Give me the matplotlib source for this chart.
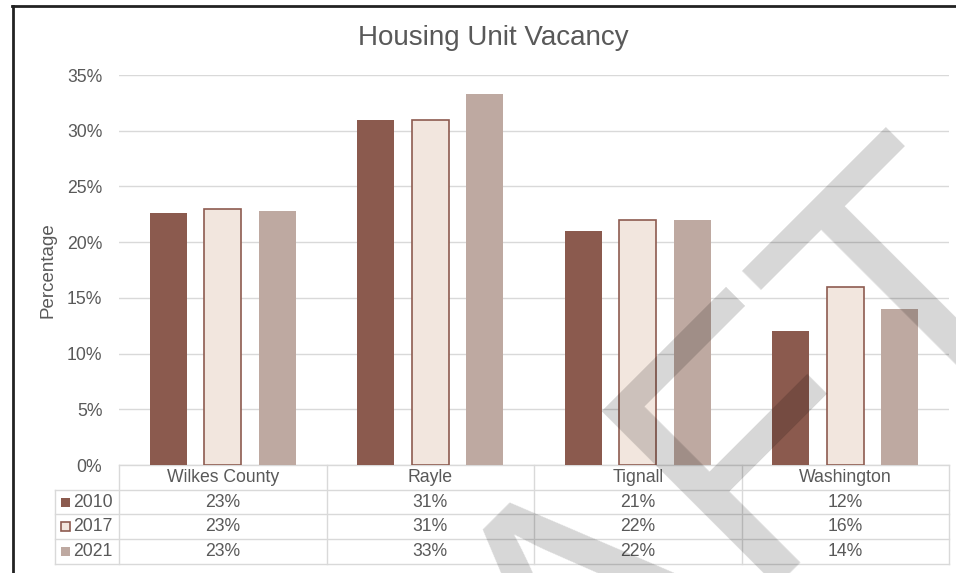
import numpy as np
import matplotlib.pyplot as plt
from matplotlib.patches import Rectangle
from matplotlib.lines import Line2D
from matplotlib.ticker import PercentFormatter

plt.rcParams['font.family'] = ['Liberation Sans', 'DejaVu Sans']

# data (percent vacant housing units)
places = ['Wilkes County', 'Rayle', 'Tignall', 'Washington']
years = ['2010', '2017', '2021']
vac_2010 = [22.6, 31.0, 21.0, 12.0]
vac_2017 = [23.0, 31.0, 22.0, 16.0]
vac_2021 = [22.8, 33.3, 22.0, 14.0]

series = [vac_2010, vac_2017, vac_2021]
fills = ['#8b5a4e', '#f2e6de', '#bea9a1']
edges = ['#8b5a4e', '#8e5b50', '#bea9a1']
txt = '#595959'
grid = '#d9d9d9'
fs = 12.7

W, H = 956, 573
fig = plt.figure(figsize=(W / 100, H / 100), dpi=100)

# plot area in pixels: x 119..949, y 75..465
ax = fig.add_axes([119 / W, 1 - 465 / H, 830 / W, 390 / H])
x = np.arange(len(places))
bw = 0.178
step = 0.262
for k in range(3):
    vals = np.array(series[k]) / 100
    ax.bar(x + (k - 1) * step, vals, width=bw, color=fills[k],
           edgecolor=edges[k], linewidth=1.2 if k == 1 else 0, zorder=3)

ax.set_xlim(-0.5, len(places) - 0.5)
ax.set_ylim(0, 0.35)
ax.set_yticks(np.arange(0, 0.351, 0.05))
ax.yaxis.set_major_formatter(PercentFormatter(1.0, decimals=0))
ax.set_xticks([])
ax.tick_params(axis='y', length=0, pad=12, labelsize=fs, labelcolor=txt)
ax.yaxis.grid(True, color=grid, lw=1)
ax.set_axisbelow(True)
for s in ax.spines.values():
    s.set_visible(False)

# data table under the axis
tr = ax.get_xaxis_transform()
rh = 24.7 / 390  # row height in axes fraction
ppx = 207.5       # pixels per category
lab_left = -0.5 - 64 / ppx
right = len(places) - 0.5

def hline(y, x0, x1):
    ax.add_line(Line2D([x0, x1], [y, y], transform=tr, color=grid, lw=1, clip_on=False))

def vline(xv, y0, y1):
    ax.add_line(Line2D([xv, xv], [y0, y1], transform=tr, color=grid, lw=1, clip_on=False))

hline(0, -0.5, right)
for r in range(1, 5):
    hline(-r * rh, lab_left, right)
vline(lab_left, -rh, -4 * rh)
for b in np.arange(-0.5, right + 0.01, 1.0):
    vline(b, 0, -4 * rh)

for i, p in enumerate(places):
    ax.text(i, -0.5 * rh, p, transform=tr, ha='center', va='center',
            fontsize=fs, color=txt, clip_on=False)
    for k in range(3):
        ax.text(i, -(k + 1.5) * rh, f"{series[k][i]:.0f}%", transform=tr,
                ha='center', va='center', fontsize=fs, color=txt, clip_on=False)

sq = 9 / ppx
for k, yr in enumerate(years):
    yc = -(k + 1.5) * rh
    ax.add_patch(Rectangle((-0.5 - 58 / ppx, yc - 4.5 / 390), sq, 9 / 390,
                           transform=tr, facecolor=fills[k], edgecolor=edges[k],
                           lw=1.2 if k == 1 else 0, clip_on=False))
    ax.text(-0.5 - 46 / ppx, yc, yr, transform=tr, ha='left', va='center',
            fontsize=fs, color=txt, clip_on=False)

fig.text(493 / W, 1 - 38 / H, 'Housing Unit Vacancy', ha='center', va='center',
         fontsize=20, color=txt)
fig.text(48 / W, 1 - 270 / H, 'Percentage', rotation=90, ha='center', va='center',
         fontsize=13.5, color=txt)

# chart border (cropped on right and bottom)
fig.add_artist(Line2D([12.5 / W, 12.5 / W], [1 - 6 / H, -0.1], color='#222222', lw=2))
fig.add_artist(Line2D([12 / W, 1.1], [1 - 6 / H, 1 - 6 / H], color='#222222', lw=2))

# DRAFT watermark
fig.text(635 / W, 1 - 699 / H, 'DRAFT', rotation=45, rotation_mode='anchor',
         ha='center', va='baseline', fontsize=259, color='black', alpha=0.16,
         zorder=10)

fig.savefig('out.png', dpi=100)
